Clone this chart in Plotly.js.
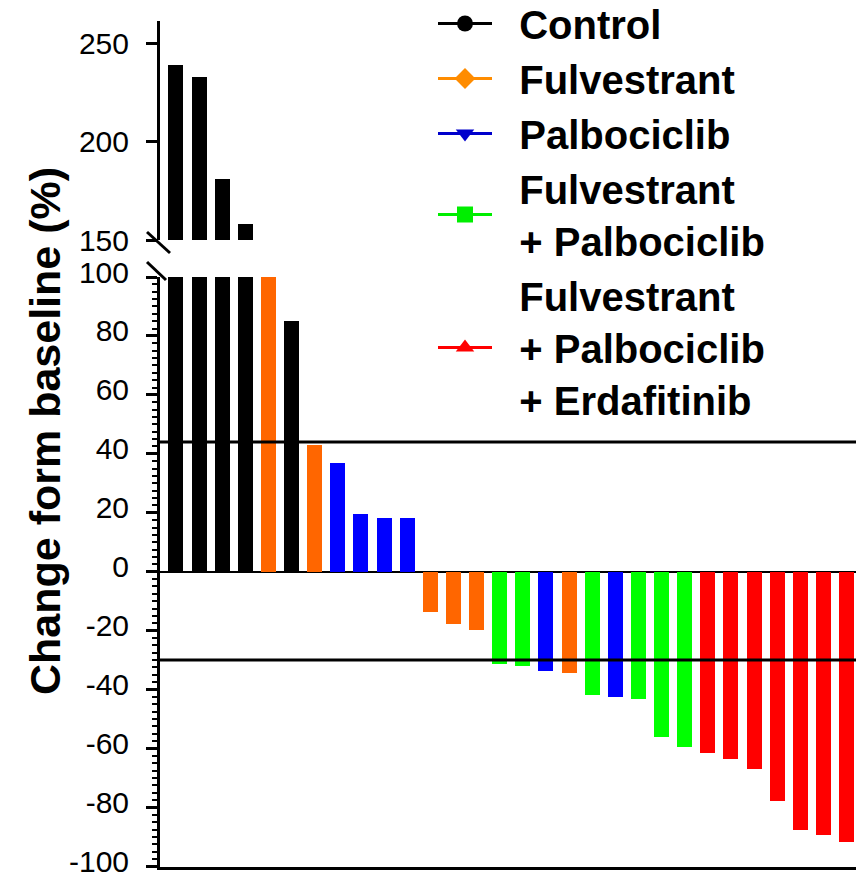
<!DOCTYPE html>
<html>
<head>
<meta charset="utf-8">
<script src="https://cdn.plot.ly/plotly-3.0.1.min.js"></script>
<style>html,body{margin:0;padding:0;background:#fff;}#chart{width:856px;height:882px;}</style>
</head>
<body>
<div id="chart"></div>
<script>
// ---- data ----
const groupNames = ['Control', 'Fulvestrant', 'Palbociclib', 'Fulvestrant<br>+ Palbociclib', 'Fulvestrant<br>+ Palbociclib<br>+ Erdafitinib'];
const groupBarColors = ['#000000', '#FF6600', '#0000FF', '#00FF00', '#FF0000'];
const groupLegendColors = ['#000000', '#FF8C00', '#0000CC', '#00EE00', '#FF0000'];
const groupSymbols = ['circle', 'diamond', 'triangle-down', 'square', 'triangle-up'];
// group index of each bar (0=Control,1=Fulv,2=Palbo,3=F+P,4=F+P+E)
const barGroups = [0,0,0,0,1,0,1,2,2,2,2,1,1,1,3,3,2,1,3,2,3,3,3,4,4,4,4,4,4,4];
const barValues = [239,233,181,158,100,85,43,37,19.7,18.2,18.2,-13.7,-17.8,-19.8,-31.3,-32.1,-33.6,-34.4,-41.7,-42.5,-43.3,-56.1,-59.4,-61.5,-63.6,-67.1,-77.8,-87.5,-89.5,-91.8];
const refLines = [44, -30];
const lowerTicks = [-100,-80,-60,-40,-20,0,20,40,60,80,100];
const upperTicks = [150,200,250];

const FONT = 'Liberation Sans, Arial, sans-serif';
const barIdx = barValues.map((v,i)=>i);
const barColors = barGroups.map(g=>groupBarColors[g]);
const NB = '\u00A0\u00A0';

const traces = [];
['y','y2'].forEach(ax=>{
  traces.push({
    type:'bar', x:barIdx, y:barValues, xaxis:'x', yaxis:ax,
    width:0.65, marker:{color:barColors, line:{width:0}},
    showlegend:false, hoverinfo:'skip'
  });
});
groupNames.forEach((n,i)=>{
  traces.push({
    type:'scatter', mode:'lines+markers', x:[null], y:[null],
    name: n.split('<br>').map(s=>NB+s).join('<br>'),
    line:{color:groupLegendColors[i], width:3},
    marker:{color:groupLegendColors[i], symbol:groupSymbols[i], size:18, line:{width:0}},
    xaxis:'x', yaxis:'y'
  });
});

const ML=160, MT=21, MB=15, W=856, H=882;
const PW=W-ML, PH=H-MT-MB;
const px2x = p => (p-ML)/PW;
const py2y = p => (H-MB-p)/PH;

const shapes = refLines.map(v=>({type:'line', xref:'x domain', yref:'y', x0:0, x1:1, y0:v, y1:v, line:{color:'#000', width:3}, layer:'above'}));
// axis break marks
shapes.push({type:'line', xref:'paper', yref:'paper', x0:px2x(147), x1:px2x(170), y0:py2y(232), y1:py2y(253), line:{color:'#000', width:3}});
shapes.push({type:'line', xref:'paper', yref:'paper', x0:px2x(147), x1:px2x(166), y0:py2y(262), y1:py2y(280), line:{color:'#000', width:3}});

const tickFont = {family:FONT, size:30, color:'#000'};
const layout = {
  width:W, height:H, margin:{l:ML, r:0, t:MT, b:MB, pad:0, autoexpand:false},
  paper_bgcolor:'#fff', plot_bgcolor:'#fff',
  font:{family:FONT, color:'#000'},
  bargap:0,
  xaxis:{range:[-0.69, 29.41], showline:true, linecolor:'#000', linewidth:3, showgrid:false, zeroline:false, showticklabels:false, ticks:''},
  yaxis:{domain:[0, py2y(277)], range:[-100.2,100], tickmode:'array', tickvals:lowerTicks, ticktext:lowerTicks.map(String),
    ticks:'outside', ticklen:11, tickwidth:3, tickcolor:'#000', ticklabeloverflow:'allow', ticklabelshift:-5,
    showline:true, linecolor:'#000', linewidth:3, showgrid:false, zeroline:true, zerolinecolor:'#000', zerolinewidth:2,
    tickfont:tickFont, ticklabelstandoff:11,
    minor:{dtick:2.5, ticks:'outside', ticklen:5, tickwidth:2, tickcolor:'#000', showgrid:false}},
  yaxis2:{domain:[py2y(240), 1], range:[150,261.2], tickmode:'array', tickvals:upperTicks, ticktext:upperTicks.map(String),
    ticks:'outside', ticklen:11, tickwidth:3, tickcolor:'#000', ticklabeloverflow:'allow',
    showline:true, linecolor:'#000', linewidth:3, showgrid:false, zeroline:false, anchor:'x', tickfont:tickFont, ticklabelstandoff:11},
  showlegend:true,
  legend:{x:px2x(433), y:py2y(-9), xanchor:'left', yanchor:'top', bgcolor:'rgba(0,0,0,0)', borderwidth:0,
    font:{family:FONT, size:40, color:'#000', weight:'bold'}, itemwidth:54, tracegroupgap:0},
  shapes:shapes,
  annotations:[{text:'Change form baseline (%)', textangle:-90, xref:'paper', yref:'paper', x:px2x(45), y:py2y(431),
    xanchor:'center', yanchor:'middle', showarrow:false, font:{family:FONT, size:43, color:'#000', weight:'bold'}}]
};
Plotly.newPlot('chart', traces, layout, {displayModeBar:false, staticPlot:true});
</script>
</body>
</html>
